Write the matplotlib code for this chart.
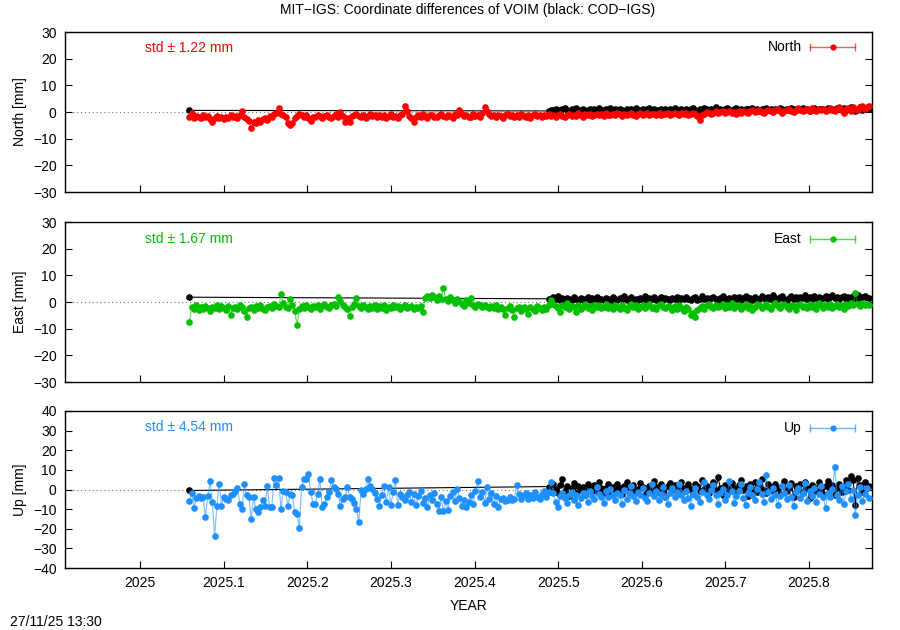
import numpy as np
import matplotlib
matplotlib.use('Agg')
import matplotlib.pyplot as plt

plt.rcParams['font.family'] = ['Liberation Sans', 'DejaVu Sans']
plt.rcParams['font.size'] = 10

# ---------------- data (day of year 2025) ----------------
col_doy = list(range(22, 320))            # MIT-IGS daily solutions
blk_doy = [22] + list(range(179, 320))    # COD-IGS daily solutions

north_col = [
    -1.8, -0.5, -2.2, -1.5, -1.9, -2.4, -1.3, -2.0, -1.6, -2.5, -3.8, -2.1, -1.4, -2.2, -1.8, -2.6, -1.7, -2.3, -1.2, -2.0,
    -1.5, -2.4, -1.0, 0.4, -1.8, -2.7, -3.4, -5.9, -3.6, -4.1, -3.0, -3.8, -2.6, -2.1, -2.9, -1.5, -1.9, -0.7, -0.3, 1.6,
    -0.6, -1.2, -2.0, -4.0, -5.0, -4.3, -2.2, -1.6, -0.9, -1.1, -1.8, -1.3, -2.4, -3.5, -1.7, -2.0, -1.2, -1.6, -2.2, -1.4,
    -1.0, -1.9, -2.3, -1.5, -0.8, -1.7, 0.0, -1.4, -3.8, -2.2, -3.9, -1.6, -1.3, -0.9, -1.5, -1.8, -1.0, -2.1, -1.4, -0.8,
    -1.6, -1.2, -2.0, -1.1, -1.7, -1.3, -2.2, -1.5, -0.9, -1.8, -1.4, -2.3, -1.2, -0.7, 2.2, 0.3, -1.6, -2.4, -3.8, -1.9,
    -1.2, -1.7, -0.8, -1.5, -2.1, -1.3, -1.0, -1.8, -2.0, -1.1, -0.6, -1.4, -1.9, -1.2, -1.6, -2.2, -0.9, -1.3, 0.9, -0.7,
    -1.5, -1.1, -1.8, -2.0, -0.8, -1.4, -1.2, -1.7, -0.5, 1.7, 0.5, -0.9, -1.6, -1.3, -1.9, -1.0, -1.5, -2.1, -1.2, -0.8,
    -1.6, -1.3, -2.0, -1.1, -1.7, -0.9, -1.4, -1.8, -1.0, -2.2, -1.3, -0.7, -1.5, -1.1, -1.9, -1.2, -1.6, -0.8, -1.4, -1.0,
    -1.7, -1.2, -0.6, -1.5, -1.9, -1.1, -0.8, -1.4, -1.0, -1.6, -0.5, -1.2, -1.8, -0.9, -1.3, -0.7, -1.5, -1.0, -0.6, -1.2,
    -0.8, -1.4, -0.5, -1.0, -1.3, -0.7, -1.1, -0.4, -0.9, -1.5, -0.6, -1.2, -0.8, -0.3, -1.0, -1.4, -0.7, -0.5, -1.1, -0.9,
    -0.4, -1.2, -0.8, -0.6, -1.0, -0.3, -1.3, -0.7, -0.9, -0.5, -1.1, -0.6, -0.2, -0.9, -1.2, -0.5, -0.8, -0.4, -1.0, -0.7,
    -0.5, -0.9, -1.4, -3.0, -1.1, -0.6, 0.1, -0.3, -0.8, -0.2, 0.2, -0.5, -0.1, 0.3, -0.4, 0.0, 0.4, -0.3, 0.1, -0.6,
    0.2, -0.2, 0.5, 0.0, -0.4, 0.3, 0.6, -0.1, 0.2, 0.8, 0.1, -0.3, 0.4, 0.9, 0.2, 0.0, 0.6, 1.0, 0.3, -0.2,
    0.5, 0.8, 1.2, 0.4, 0.1, 0.7, 1.4, 0.6, 0.2, 0.9, 1.1, 0.3, 1.6, 0.8, 0.4, 1.0, 0.6, 1.3, 0.2, 0.9,
    1.5, 0.7, 0.3, 1.2, 1.8, 0.8, -0.3, 1.1, 1.6, 0.5, 2.0, 1.2, 0.6, 1.7, 2.1, 1.0, 1.9, 2.2]

north_blk = [0.6,
    0.4, 0.9, 0.6, 1.2, 0.8, 0.3, 1.0, 1.4, 0.7, 0.5, 1.1, 0.8, 1.5, 0.6, 0.9, 1.2, 0.4, 0.8, 1.3, 0.7,
    1.0, 0.5, 1.6, 0.9, 0.6, 1.1, 0.8, 1.4, 0.5, 1.0, 0.7, 1.2, 0.9, 0.4, 1.3, 0.8, 1.1, 0.6, 1.5, 0.9,
    0.7, 1.2, 0.5, 1.0, 1.4, 0.8, 1.1, 0.6, 0.9, 1.3, 0.7, 1.0, 0.4, 1.2, 0.8, 1.5, 0.9, 0.6, 1.1, 0.8,
    1.3, 0.7, 1.0, 1.6, 0.9, 0.5, 1.2, 0.8, 1.4, 1.0, 0.6, 1.1, 0.9, 1.7, 0.8, 1.2, 0.6, 1.0, 1.4, 0.9,
    0.7, 1.1, 1.5, 0.8, 1.2, 0.6, 1.0, 1.3, 0.9, 1.6, 0.8, 1.1, 0.5, 1.2, 1.0, 1.4, 0.7, 1.1, 0.9, 1.3,
    0.8, 1.5, 1.0, 0.6, 1.2, 0.9, 1.4, 1.1, 0.7, 1.3, 1.0, 1.6, 0.8, 1.2, 0.5, 1.1, 1.4, 0.9, 1.3, 1.0,
    1.2, 0.7, 1.5, 1.0, 1.3, 0.8, 1.6, 1.1, 0.9, 1.4, 0.6, 1.2, 1.7, 1.0, 0.5, 1.3, 1.8, 0.9, 1.4, 1.1,
    1.2]

east_col = [
    -7.4, -1.8, -2.6, -1.2, -3.1, -2.0, -2.8, -1.5, -2.4, -3.3, -1.9, -2.2, -1.0, -2.7, -1.6, -2.3, -3.0, -1.4, -4.9, -2.1,
    -1.7, -2.5, -1.3, -2.0, -3.2, -5.6, -2.4, -1.8, -2.9, -1.5, -2.2, -1.1, -2.6, -3.0, -1.9, -1.4, -2.3, -0.8, -1.6, -2.0,
    2.9, -0.5, -1.8, -2.4, 1.2, -1.0, -3.4, -8.6, -2.6, -1.5, -2.1, -1.2, -1.8, -2.7, -1.4, -2.0, -1.0, -2.5, -1.6, -0.9,
    -1.9, -2.4, -1.3, -0.6, -1.5, 2.0, 0.5, -1.2, -1.7, -2.8, -5.1, -2.0, -0.8, 1.4, -1.5, -2.3, -1.1, -1.9, -2.6, -1.4,
    -2.1, -1.0, -2.7, -1.6, -2.2, -1.3, -3.0, -1.8, -2.4, -1.2, -2.0, -1.5, -2.8, -1.7, -1.1, -2.3, -1.9, -1.4, -2.5, -1.8,
    -2.2, -1.6, -3.6, 1.6, 2.2, 1.4, 2.5, 1.8, 0.9, 2.1, 1.3, 5.4, 1.0, 0.4, 1.7, 0.6, -0.3, 1.2, 0.2, -0.8,
    -1.4, 0.8, -0.5, 1.4, -1.0, -1.8, -0.6, -1.3, -2.0, -1.1, -1.7, -2.4, -1.5, -2.1, -1.2, -2.8, -1.9, -2.5, -4.9, -2.2,
    -1.6, -2.9, -5.6, -2.3, -1.8, -3.2, -2.0, -2.7, -4.5, -1.9, -2.5, -3.4, -1.6, -2.2, -3.0, -1.8, -2.6, -1.2, 0.9, -0.6,
    -1.5, -2.3, -3.6, -1.1, -1.9, -0.5, -2.7, -1.4, -2.0, -3.8, -1.2, -2.5, -1.7, -0.9, -2.2, -1.6, -2.9, -1.3, -2.0, -1.0,
    -2.4, -1.7, -0.8, -2.1, -1.4, -2.8, -1.0, -1.9, -2.5, -1.2, -2.2, -3.0, -1.6, -0.7, -2.0, -1.3, -2.6, -1.8, -1.1, -2.3,
    -1.5, -0.9, -2.1, -1.7, -2.8, -1.2, -0.6, -1.9, -2.4, -1.4, -2.0, -3.1, -1.6, -2.5, -1.0, -2.2, -3.4, -1.8, -2.7, -5.0,
    -4.3, -5.6, -3.0, -2.1, -1.5, -2.6, -1.2, -0.7, -1.9, -2.3, -1.1, -2.0, -1.6, -0.8, -2.4, -1.3, -1.8, -0.5, -2.2, -1.5,
    -1.0, -2.6, -1.7, -0.9, -2.1, -1.4, -3.0, -1.8, -0.6, -1.2, -2.3, -1.5, -0.8, -1.9, -2.7, -1.1, -0.4, -1.6, -2.2, -1.3,
    -0.7, -1.8, -2.5, -1.0, -1.5, -2.9, -1.2, -0.6, -2.0, -1.4, -2.4, -0.9, -1.7, -1.1, -2.6, -0.5, -1.3, -2.1, -1.0, -1.8,
    -0.8, -2.2, -1.4, -0.6, -1.9, -1.1, -2.7, -0.9, -1.5, -0.3, -1.2, 3.2, -0.7, -1.6, -0.4, -1.1, -0.6, -1.3]

east_blk = [1.8,
    1.2, 0.6, 1.8, 1.0, 2.2, 0.8, 1.4, 0.5, 1.6, 1.1, 0.7, 1.9, 1.3, 0.9, 1.5, 0.6, 1.2, 1.7, 0.8, 1.4,
    1.0, 2.0, 0.7, 1.3, 0.9, 1.6, 1.1, 0.5, 1.8, 1.2, 0.8, 1.5, 1.0, 2.1, 0.6, 1.3, 1.7, 0.9, 1.2, 0.7,
    1.6, 1.1, 2.3, 0.8, 1.4, 1.0, 1.8, 0.6, 1.3, 1.9, 0.9, 1.5, 1.1, 0.7, 1.6, 1.2, 2.0, 0.8, 1.4, 1.0,
    1.7, 1.2, 0.6, 1.5, 1.9, 0.9, 1.3, 2.2, 1.0, 1.6, 0.7, 1.4, 1.8, 1.1, 0.8, 1.5, 2.1, 1.2, 0.9, 1.6,
    1.3, 2.0, 1.0, 1.7, 0.8, 1.4, 2.3, 1.1, 1.6, 0.9, 1.9, 1.3, 1.0, 2.2, 1.5, 0.8, 1.8, 1.2, 2.5, 1.4,
    1.0, 1.7, 2.1, 1.3, 0.9, 1.6, 2.4, 1.2, 1.8, 1.0, 2.0, 1.5, 2.8, 1.3, 1.7, 1.1, 2.2, 1.4, 1.9, 1.0,
    1.6, 2.3, 1.2, 1.8, 2.6, 1.4, 2.0, 1.1, 1.7, 2.4, 1.3, 1.9, 1.0, 2.2, 1.5, 2.7, 1.2, 1.8, 2.1, 1.4,
    1.6]

up_col = [
    -6.1, -1.7, -9.5, -4.4, -3.2, -4.4, -3.9, -14.1, -3.4, 4.1, -6.4, -23.8, -8.2, 2.9, -8.2, -3.9, -4.7, -5.6, -3.0, -2.2,
    -0.6, 0.6, -7.3, -9.9, 2.9, -3.0, -3.9, -14.9, -3.9, -9.9, -11.6, -9.0, -5.5, -8.2, 1.7, -9.0, -9.0, 5.8, 2.4, 5.8,
    -9.9, -1.0, -1.5, -8.2, -2.2, -2.7, -11.6, -12.4, -19.7, 1.2, 5.1, 5.4, 8.0, -1.4, -7.3, -7.3, -2.2, 5.1, -9.0, -7.3,
    -3.9, -1.4, 4.6, 1.2, 0.3, -2.2, -8.2, -5.0, -3.9, 1.2, -3.9, -4.7, -6.8, -9.9, -16.6, -0.5, -2.5, 0.3, 5.3, 1.7,
    0.3, -2.0, -4.7, -8.2, -3.0, 1.7, -6.4, 1.2, -7.9, -1.5, 4.6, -7.9, -2.2, -3.9, -5.2, -3.0, -1.2, -6.5, -2.4, -8.0,
    -3.5, -1.0, -6.8, -4.2, -9.0, -2.6, -5.5, -1.8, -7.2, -10.8, -4.0, -11.2, -6.0, -10.5, -3.2, -1.5, -5.8, 0.3, -4.4, -8.6,
    -5.2, -9.0, -6.5, -2.8, -7.4, -1.0, 4.1, -3.6, -1.4, -6.8, 1.5, -4.9, -2.0, -7.6, -3.2, -9.0, -5.0, -4.2, -6.1, -5.5,
    -3.8, -5.2, -4.6, 2.4, -2.4, -4.8, -3.0, -1.8, -5.0, -2.6, -4.4, -1.4, -3.6, -5.0, -2.2, -0.8, -3.8, -1.5, 3.7, -2.0,
    -6.6, -9.0, -3.2, -1.6, -4.5, -7.0, -2.8, -1.4, -5.6, -3.0, -8.0, -4.2, -1.8, -2.6, -6.2, -0.6, -3.4, -5.0, 1.2, -2.2,
    -4.0, -6.8, -1.0, -3.6, 0.5, -2.8, -5.4, -1.6, -3.0, -7.2, -0.4, -4.6, -2.0, 1.8, -3.4, -5.8, -1.2, -2.6, 0.8, -4.4,
    -6.0, -1.8, 2.6, -3.2, -0.8, -5.2, -2.4, 1.4, -4.0, -7.6, -2.0, 0.6, -3.8, -1.2, 3.0, -2.8, -5.6, -0.6, -4.2, -8.4,
    -2.2, 0.8, -3.6, -6.2, -1.4, 3.8, -2.6, -4.8, -0.4, 2.2, -3.0, -7.6, -1.8, 0.4, -5.4, -2.8, 4.2, -1.0, -6.8, -3.4,
    -0.6, 2.8, -4.2, -8.0, -1.6, 1.2, -3.0, -5.6, 0.2, 3.6, -2.4, -6.4, 7.2, -1.2, -4.6, 0.8, -2.8, -7.8, -3.4, 1.6,
    -1.8, -5.0, 2.4, -3.8, -8.6, -1.2, 1.0, -4.4, -2.0, 3.2, -5.8, -0.8, -3.2, 0.6, -6.2, -2.4, 2.0, -4.0, -9.6, -1.6,
    -3.6, 0.4, 11.4, -2.8, -5.2, 1.8, -7.4, -1.0, 2.6, -4.6, -0.2, -13.2, -3.0, 1.4, -6.0, -2.2, 0.8, -4.2]

up_blk = [-0.5,
    1.5, -1.2, 3.0, 0.2, -2.0, 2.4, 5.1, -0.8, 1.8, -3.4, 0.6, 3.2, -1.6, 2.0, -0.4, 1.2, -2.6, 2.8, 0.4, -1.0,
    2.2, -0.6, 3.6, 1.0, -1.8, 0.8, 2.6, -3.0, 1.4, -0.2, 3.0, 0.6, -2.2, 1.8, 4.0, -0.8, 1.0, 2.4, -1.4, 0.2,
    3.2, 1.2, -2.6, 0.4, 2.0, -0.6, 4.4, 1.4, -1.2, 2.8, 0.0, -3.6, 1.6, 3.4, -0.4, 2.2, 0.8, -1.8, 3.8, 1.0,
    -0.8, 2.6, 0.4, -2.4, 3.0, 1.6, -1.0, 4.8, 0.2, 2.0, -1.6, 1.2, 3.6, -0.2, 6.3, 0.8, -2.8, 2.4, 1.0, -0.6,
    3.4, 0.6, -1.4, 2.2, 4.6, -0.4, 1.6, -3.2, 2.8, 0.2, 3.8, -1.2, 1.4, 5.2, 0.0, -2.0, 2.6, 1.2, -0.8, 3.0,
    1.0, -2.4, 2.0, 4.2, -1.0, 0.6, 3.2, -3.6, 1.8, 0.2, 2.8, -1.6, 4.0, 0.8, -4.2, 2.2, 1.2, -0.6, 3.6, 0.4,
    -2.2, 1.6, 4.4, -0.4, 2.4, -3.0, 0.8, 3.0, -1.2, 1.8, 5.0, -0.2, 7.1, 4.6, -7.8, 6.0, 2.2, -1.4, 3.6, 0.6,
    1.8]

components = ['North', 'East', 'Up']
std_values = [1.22, 1.67, 4.54]
colors = ['#ff0000', '#00c000', '#1e90ff']
ylims = [(-30, 30), (-30, 30), (-40, 40)]
xticks = [2025.0, 2025.1, 2025.2, 2025.3, 2025.4, 2025.5, 2025.6, 2025.7, 2025.8]
xtick_labels = ['2025', '2025.1', '2025.2', '2025.3', '2025.4', '2025.5', '2025.6', '2025.7', '2025.8']
col_series = [north_col, east_col, up_col]
blk_series = [north_blk, east_blk, up_blk]


def doy_to_year(d):
    return 2025.0 + (np.asarray(d, dtype=float) - 0.5) / 365.25


W, H = 900, 630
fig = plt.figure(figsize=(W / 100, H / 100), dpi=100)

# panel pixel boxes (top, bottom)
boxes = [(32, 192), (222, 382), (411, 568)]
left_px, right_px = 65, 872

x_col = doy_to_year(col_doy)
x_blk = doy_to_year(blk_doy)

for k in range(3):
    top, bot = boxes[k]
    ax = fig.add_axes([left_px / W, 1 - bot / H, (right_px - left_px) / W, (bot - top) / H])
    c = colors[k]
    ax.axhline(0, color='#777777', lw=0.8, ls=(0, (1, 2.5)), zorder=1)
    ax.plot(x_blk, blk_series[k], '-', color='black', lw=0.8, zorder=2)
    ax.plot(x_blk, blk_series[k], 'o', color='black', ms=4.8, mew=0, zorder=3)
    ax.plot(x_col, col_series[k], '-', color=c, lw=0.8, alpha=0.6, zorder=4)
    ax.plot(x_col, col_series[k], 'o', color=c, ms=4.8, mew=0, zorder=5)

    ax.set_xlim(2024.910, 2025.8755)
    ax.set_ylim(*ylims[k])
    lo, hi = ylims[k]
    ax.set_yticks(np.arange(lo, hi + 1, 10))
    ax.set_xticks(xticks)
    if k == 2:
        ax.set_xticklabels(xtick_labels)
        ax.set_xlabel('YEAR', labelpad=6)
    else:
        ax.set_xticklabels([])
    ax.tick_params(axis='both', direction='in', length=5, width=0.8, pad=6, labelsize=10)
    ax.tick_params(axis='y', right=True)
    ax.set_ylabel(f'{components[k]} [mm]', labelpad=4)
    for s in ax.spines.values():
        s.set_linewidth(1.0)

    ax.text(0.099, 0.90 - (0.005 if k else 0), f'std \u00b1 {std_values[k]:.2f} mm', color=c,
            transform=ax.transAxes, ha='left', va='center', fontsize=10)
    # legend sample
    ly = 0.905 if k == 0 else (0.894 if k == 1 else 0.892)
    ax.text(0.913, ly, components[k], transform=ax.transAxes, ha='right', va='center', fontsize=10)
    ax.plot([0.923, 0.979], [ly, ly], '-', color=c, lw=1.0, alpha=0.65, transform=ax.transAxes, clip_on=False)
    ax.plot([0.923, 0.979], [ly, ly], '|', color=c, ms=6, mew=1.0, alpha=0.65, transform=ax.transAxes, clip_on=False)
    ax.plot([0.952], [ly], 'o', color=c, ms=4.5, mew=0, transform=ax.transAxes, clip_on=False)

fig.text(468 / W, 1 - 10 / H, 'MIT\u2212IGS: Coordinate differences of VOIM (black: COD\u2212IGS)',
         ha='center', va='center', fontsize=10)
fig.text(10 / W, 1 - 622 / H, '27/11/25 13:30', ha='left', va='center', fontsize=10)

fig.savefig('out.png', dpi=100)
